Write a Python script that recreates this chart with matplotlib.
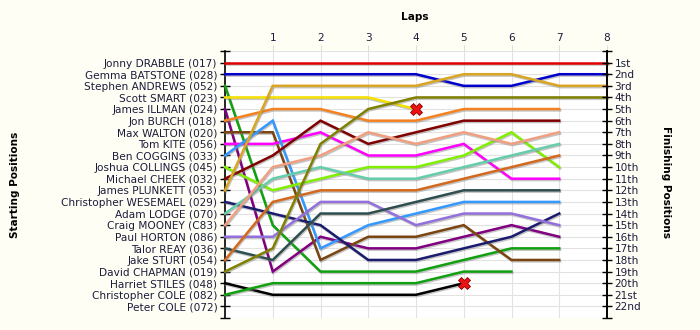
import matplotlib
matplotlib.use("Agg")
import matplotlib.pyplot as plt
import matplotlib.patheffects as pe

# starting grid, top to bottom
drivers = [
    "Jonny DRABBLE (017)", "Gemma BATSTONE (028)", "Stephen ANDREWS (052)",
    "Scott SMART (023)", "James ILLMAN (024)", "Jon BURCH (018)",
    "Max WALTON (020)", "Tom KITE (056)", "Ben COGGINS (033)",
    "Joshua COLLINGS (045)", "Michael CHEEK (032)", "James PLUNKETT (053)",
    "Christopher WESEMAEL (029)", "Adam LODGE (070)", "Craig MOONEY (C83)",
    "Paul HORTON (086)", "Talor REAY (036)", "Jake STURT (054)",
    "David CHAPMAN (019)", "Harriet STILES (048)", "Christopher COLE (082)",
    "Peter COLE (072)",
]

line_colors = [
    "#e00000", "#0000cc", "#10a010", "#f5e000", "#800080", "#f58220",
    "#7a4510", "#ff00ff", "#3399ff", "#80f000", "#800000", "#daa520",
    "#1c1c6e", "#66cdaa", "#f0a080", "#9370db", "#2f4f4f", "#d2691e",
    "#808000", "#000000", "#10a010", "#888888",
]

# position at lap 0, 1, 2, ...
positions = [
    [1, 1, 1, 1, 1, 1, 1, 1, 1],
    [2, 2, 2, 2, 2, 3, 3, 2, 2],
    [3, 15, 19, 19, 19, 18, 17, 17],
    [4, 4, 4, 4, 5],
    [5, 19, 16, 17, 17, 16, 15, 16],
    [6, 5, 5, 6, 6, 5, 5, 5],
    [7, 7, 18, 16, 16, 15, 18, 18],
    [8, 8, 7, 9, 9, 8, 11, 11],
    [9, 6, 17, 15, 14, 13, 13, 13],
    [10, 12, 11, 10, 10, 9, 7, 10],
    [11, 9, 6, 8, 7, 6, 6, 6],
    [12, 3, 3, 3, 3, 2, 2, 3, 3],
    [13, 14, 15, 18, 18, 17, 16, 14],
    [14, 11, 10, 11, 11, 10, 9, 8],
    [15, 10, 9, 7, 8, 7, 8, 7],
    [16, 16, 13, 13, 15, 14, 14, 15],
    [17, 18, 14, 14, 13, 12, 12, 12],
    [18, 13, 12, 12, 12, 11, 10, 9],
    [19, 17, 8, 5, 4, 4, 4, 4, 4],
    [20, 21, 21, 21, 21, 20],
    [21, 20, 20, 20, 20, 19, 19],
    [],
]

retired = ["Scott SMART (023)", "Harriet STILES (048)"]

lap_labels = ["1", "2", "3", "4", "5", "6", "7", "8"]
finish_labels = [
    "1st", "2nd", "3rd", "4th", "5th", "6th", "7th", "8th", "9th", "10th",
    "11th", "12th", "13th", "14th", "15th", "16th", "17th", "18th", "19th",
    "20th", "21st", "22nd",
]

n = len(drivers)
text_color = "#1c1c3c"

fig = plt.figure(figsize=(7, 3.3), dpi=100, facecolor="#fffef4")
ax = fig.add_axes([225 / 700, 1 - 318 / 330, 382 / 700, 267 / 330])
ax.set_facecolor("white")

shadow = [pe.SimpleLineShadow(offset=(0.6, -1.0), shadow_color="#808080", alpha=0.45), pe.Normal()]
for name, col, pos in zip(drivers, line_colors, positions):
    if not pos:
        continue
    ax.plot(range(len(pos)), pos, color=col, linewidth=1.8, solid_joinstyle="miter",
            path_effects=shadow, zorder=3, clip_on=False)
    if name in retired:
        ax.plot(len(pos) - 1, pos[-1], marker="X", markersize=8, color="#ee1111",
                markeredgecolor="#880000", markeredgewidth=0.6, zorder=5)

ax.set_xlim(0, 8)
ax.set_ylim(n + 1, 0)

ax.set_yticks(range(0, n + 2))
ax.set_yticklabels([""] + drivers + [""], fontsize=7.6, color=text_color)
ax.tick_params(axis="y", direction="inout", length=7, width=1, pad=2)

ax.xaxis.tick_top()
ax.set_xticks(range(1, 9))
ax.set_xticklabels(lap_labels, fontsize=7.6, color=text_color)
ax.tick_params(axis="x", length=4, color="#dddddd", pad=2)
ax.grid(True, color="#e2e2e2", linewidth=0.8, zorder=0)
ax.set_axisbelow(True)

for side in ["top", "bottom"]:
    ax.spines[side].set_visible(False)
ax.spines["left"].set_linewidth(1.2)
ax.spines["right"].set_linewidth(1.2)

ax2 = ax.twinx()
ax2.set_ylim(n + 1, 0)
ax2.set_yticks(range(0, n + 2))
ax2.set_yticklabels([""] + finish_labels + [""], fontsize=7.6, color=text_color)
ax2.tick_params(axis="y", direction="inout", length=7, width=1, pad=2)
for side in ["top", "bottom", "left"]:
    ax2.spines[side].set_visible(False)
ax2.spines["right"].set_linewidth(1.2)

fig.text(415 / 700, 1 - 17 / 330, "Laps", ha="center", va="center",
         fontsize=7.6, fontweight="bold")
fig.text(15 / 700, 1 - 185 / 330, "Starting Positions", ha="center", va="center",
         rotation=90, fontsize=7.6, fontweight="bold")
fig.text(666 / 700, 1 - 182 / 330, "Finishing Positions", ha="center", va="center",
         rotation=270, fontsize=7.6, fontweight="bold")

fig.savefig("out.png", dpi=100, facecolor=fig.get_facecolor())
